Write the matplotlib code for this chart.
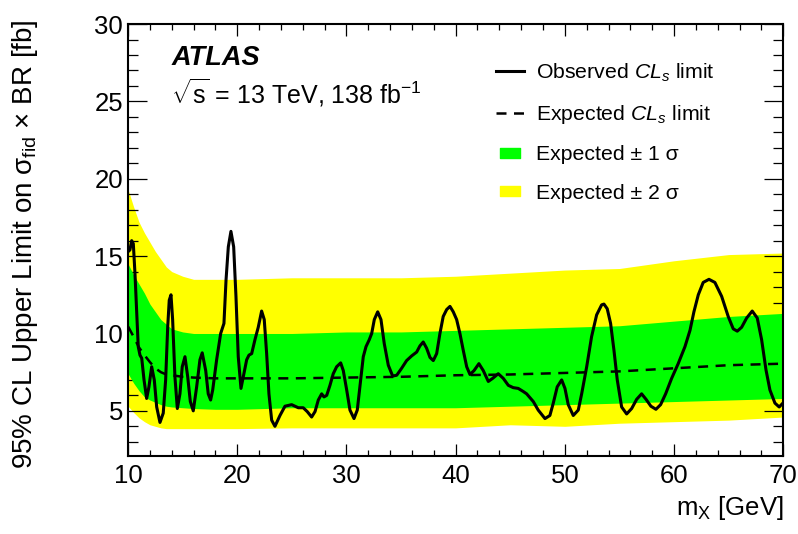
import matplotlib
matplotlib.use('Agg')
import matplotlib.pyplot as plt
from matplotlib.lines import Line2D
from matplotlib.path import Path
from matplotlib.ticker import MultipleLocator

plt.rcParams['font.family'] = ['Liberation Sans', 'DejaVu Sans']
plt.rcParams['mathtext.fontset'] = 'custom'
plt.rcParams['mathtext.rm'] = 'Liberation Sans'
plt.rcParams['mathtext.it'] = 'Liberation Sans:italic'
plt.rcParams['mathtext.bf'] = 'Liberation Sans:bold'

# mass grid for the expected limit and the bands
band_x = [10, 10.5, 11, 11.5, 12, 12.5, 13, 13.5, 14, 15, 16, 18, 20,
          25, 30, 35, 40, 45, 50, 55, 60, 65, 70]
exp_limit = [10.45, 9.8, 9.1, 8.6, 8.15, 7.75, 7.5, 7.35, 7.3, 7.2, 7.15, 7.1, 7.1,
             7.1, 7.15, 7.2, 7.3, 7.35, 7.45, 7.55, 7.75, 7.95, 8.05]
up_2sig = [19.3, 18.2, 17.2, 16.5, 15.9, 15.3, 14.8, 14.3, 14.0, 13.7, 13.5, 13.5, 13.5,
           13.6, 13.6, 13.6, 13.7, 13.9, 14.1, 14.2, 14.7, 15.1, 15.2]
up_1sig = [14.5, 13.8, 13.2, 12.6, 11.9, 11.4, 10.9, 10.6, 10.3, 10.1, 10.0, 10.0, 10.0,
           10.0, 10.1, 10.1, 10.2, 10.3, 10.4, 10.5, 10.8, 11.1, 11.3]
dn_1sig = [7.4, 6.8, 6.3, 5.9, 5.7, 5.55, 5.4, 5.3, 5.25, 5.2, 5.15, 5.1, 5.1,
           5.2, 5.2, 5.2, 5.2, 5.3, 5.4, 5.5, 5.6, 5.7, 5.8]
dn_2sig = [5.3, 4.9, 4.55, 4.3, 4.1, 4.0, 3.9, 3.85, 3.85, 3.85, 3.85, 3.85, 3.85,
           3.9, 3.9, 3.9, 3.9, 4.1, 4.0, 4.2, 4.3, 4.4, 4.6]

# observed limit
obs_x = [10.02, 10.17, 10.33, 10.48, 10.63, 10.79, 10.93, 11.09, 11.25, 11.46,
         11.70, 11.91, 12.16, 12.40, 12.62, 12.92, 13.22, 13.44, 13.63, 13.77,
         13.93, 14.08, 14.29, 14.51, 14.75, 14.96, 15.21, 15.46, 15.70, 15.97,
         16.28, 16.58, 16.79, 17.11, 17.34, 17.56, 17.75, 18.11, 18.48, 18.78,
         18.97, 19.18, 19.42, 19.67, 19.88, 20.09, 20.34, 20.61, 20.86, 21.07,
         21.32, 21.62, 21.92, 22.23, 22.47, 22.69, 22.90, 23.15, 23.45, 23.91,
         24.37, 24.98, 25.59, 26.04, 26.41, 26.81, 27.12, 27.42, 27.73, 27.94,
         28.19, 28.49, 28.79, 29.10, 29.47, 29.71, 30.02, 30.32, 30.69, 30.99,
         31.30, 31.54, 31.79, 32.09, 32.31, 32.55, 32.86, 33.16, 33.46, 33.83,
         34.23, 34.60, 35.05, 35.51, 35.97, 36.43, 36.73, 37.03, 37.34, 37.65,
         37.95, 38.26, 38.56, 38.86, 39.18, 39.48, 39.78, 40.09, 40.39, 40.70,
         41.01, 41.31, 41.68, 42.13, 42.53, 42.99, 43.39, 43.90, 44.36, 44.82,
         45.27, 45.73, 46.19, 46.50, 47.11, 47.56, 48.18, 48.63, 48.94, 49.30,
         49.71, 50.01, 50.31, 50.77, 51.23, 51.54, 52.00, 52.45, 52.91, 53.37,
         53.58, 53.88, 54.19, 54.50, 54.80, 55.20, 55.66, 56.12, 56.58, 57.03,
         57.43, 57.88, 58.34, 58.77, 59.23, 59.78, 60.38, 61.00, 61.46, 61.82,
         62.22, 62.67, 63.20, 63.74, 64.36, 64.96, 65.42, 65.79, 66.19, 66.65,
         67.16, 67.62, 68.02, 68.42, 68.78, 69.24, 69.63, 69.97]
obs_limit = [15.3, 15.4, 16.0, 15.8, 13.9, 11.3, 9.15, 8.6, 8.4, 7.0,
             5.8, 6.55, 7.85, 7.0, 5.25, 4.25, 4.85, 7.0, 10.45, 12.15,
             12.5, 10.9, 7.2, 5.15, 6.1, 7.85, 8.5, 7.2, 5.6, 5.0,
             6.55, 8.3, 8.75, 7.6, 6.1, 5.7, 6.35, 8.3, 10.0, 10.65,
             13.45, 15.6, 16.6, 15.6, 12.4, 8.5, 6.45, 7.4, 8.3, 8.6,
             8.7, 9.6, 10.4, 11.45, 10.9, 8.7, 6.1, 4.4, 4.0, 4.7,
             5.3, 5.4, 5.2, 5.2, 4.95, 4.6, 4.95, 5.7, 6.1, 5.9,
             6.0, 6.65, 7.4, 7.85, 8.1, 7.6, 6.35, 5.05, 4.5, 5.05,
             7.0, 8.5, 9.15, 9.6, 10.0, 10.9, 11.4, 10.9, 9.35, 7.95,
             7.25, 7.3, 7.75, 8.25, 8.55, 8.8, 9.2, 9.45, 9.05, 8.45,
             8.25, 8.7, 10.0, 11.1, 11.55, 11.75, 11.4, 10.9, 10.0, 8.9,
             7.85, 7.35, 7.6, 8.05, 7.6, 6.9, 7.1, 7.4, 7.1, 6.65,
             6.5, 6.45, 6.25, 6.1, 5.6, 5.05, 4.5, 4.7, 5.5, 6.55,
             7.0, 6.45, 5.4, 4.7, 5.05, 6.1, 7.85, 9.8, 11.2, 11.85,
             11.9, 11.6, 10.65, 8.9, 7.0, 5.25, 4.8, 5.15, 5.75, 6.1,
             5.75, 5.3, 5.1, 5.4, 6.1, 7.1, 8.05, 9.15, 10.2, 11.4,
             12.5, 13.3, 13.5, 13.3, 12.4, 11.1, 10.3, 10.15, 10.4, 11.0,
             11.45, 11.0, 9.6, 7.65, 6.35, 5.5, 5.25, 5.5]

fig = plt.figure(figsize=(7.98, 5.34), dpi=100)
ax = fig.add_axes([0.1605, 0.1466, 0.8210, 0.8084])

ax.fill_between(band_x, dn_2sig, up_2sig, color='#ffff00', linewidth=0, zorder=1)
ax.fill_between(band_x, dn_1sig, up_1sig, color='#00ff00', linewidth=0, zorder=2)
ax.plot(band_x, exp_limit, color='black', linewidth=1.8, dashes=(4, 3), zorder=3)
ax.plot(obs_x, obs_limit, color='black', linewidth=2.2, zorder=4)

ax.set_xlim(10, 70)
ax.set_ylim(2.1, 30)

ax.xaxis.set_major_locator(MultipleLocator(10))
ax.xaxis.set_minor_locator(MultipleLocator(2))
ax.yaxis.set_major_locator(MultipleLocator(5))
ax.yaxis.set_minor_locator(MultipleLocator(1))
ax.tick_params(axis='both', which='both', direction='in', top=True, right=True,
               labelsize=18.5, width=0.9)
ax.tick_params(axis='x', which='major', length=8.5, pad=6)
ax.tick_params(axis='x', which='minor', length=4.3)
ax.tick_params(axis='y', which='major', length=14, pad=3.5)
ax.tick_params(axis='y', which='minor', length=7)
for sp in ax.spines.values():
    sp.set_linewidth(1.5)

ax.set_xlabel(r'm$_{\mathrm{X}}$ [GeV]', fontsize=18.5, loc='right')
ax.set_ylabel(r'95% CL Upper Limit on σ$_{\mathrm{fid}}$ × BR [fb]', fontsize=20)
ax.yaxis.set_label_coords(-0.1345, 0.49)

ax.text(0.066, 0.905, 'ATLAS', transform=ax.transAxes, fontsize=19.5,
        fontweight='bold', fontstyle='italic', va='baseline')
ax.text(0.066, 0.815, r'$\sqrt{\mathrm{s}}$ = 13 TeV, 138 fb$^{\mathrm{-1}}$',
        transform=ax.transAxes, fontsize=18, va='baseline')

# legend
rect = Path([(-1, -0.55), (1, -0.55), (1, 0.55), (-1, 0.55), (-1, -0.55)],
            [Path.MOVETO, Path.LINETO, Path.LINETO, Path.LINETO, Path.CLOSEPOLY])
handles = [
    Line2D([], [], color='black', linewidth=2.2),
    Line2D([], [], color='black', linewidth=1.8, dashes=(4, 3)),
    Line2D([], [], marker=rect, color='#00ff00', markersize=14, linestyle='none'),
    Line2D([], [], marker=rect, color='#ffff00', markersize=14, linestyle='none'),
]
labels = [r'Observed $CL_{s}$ limit', r'Expected $CL_{s}$ limit',
          'Expected ± 1 σ', 'Expected ± 2 σ']
ax.legend(handles, labels, loc='upper left', bbox_to_anchor=(0.548, 0.932),
          frameon=False, fontsize=15.3, handlelength=1.35, handletextpad=0.55,
          labelspacing=0.9, borderaxespad=0)

fig.savefig('out.png', dpi=100)
